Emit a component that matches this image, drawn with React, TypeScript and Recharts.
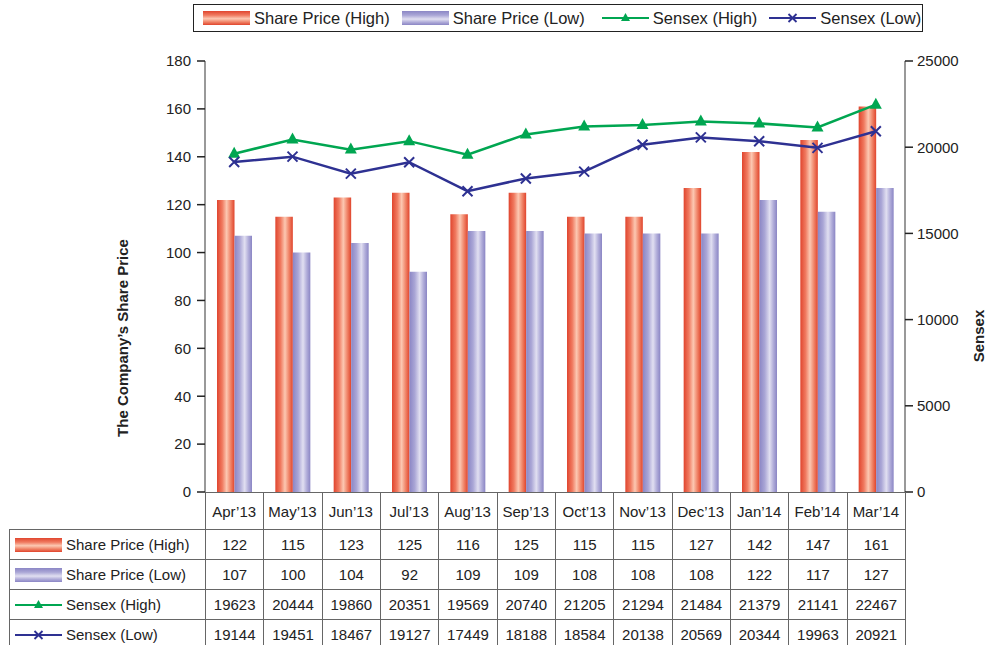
import React from 'react';
import {
    ComposedChart,
    Bar,
    Line,
    XAxis,
    YAxis,
} from 'recharts';

const months = ["Apr'13", "May'13", "Jun'13", "Jul'13", "Aug'13", "Sep'13", "Oct'13", "Nov'13", "Dec'13", "Jan'14", "Feb'14", "Mar'14"].map(m => m.replace("'", '\u2019'));
const priceHigh = [122, 115, 123, 125, 116, 125, 115, 115, 127, 142, 147, 161];
const priceLow = [107, 100, 104, 92, 109, 109, 108, 108, 108, 122, 117, 127];
const sensexHigh = [19623, 20444, 19860, 20351, 19569, 20740, 21205, 21294, 21484, 21379, 21141, 22467];
const sensexLow = [19144, 19451, 18467, 19127, 17449, 18188, 18584, 20138, 20569, 20344, 19963, 20921];

const leftTicks = [0, 20, 40, 60, 80, 100, 120, 140, 160, 180];
const rightTicks = [0, 5000, 10000, 15000, 20000, 25000];

const FONT = '"Liberation Sans", Arial, Helvetica, sans-serif';
const GREEN = '#00a651';
const BLUE = '#2e3192';
const RED_GRAD = 'linear-gradient(to right, #e0452e 0%, #f07a60 30%, #fcc8b2 55%, #f08468 78%, #e0442c 100%)';
const LAV_GRAD = 'linear-gradient(to right, #8b86c5 0%, #aaa6d6 30%, #e1dff1 58%, #b0acd9 80%, #8a85c4 100%)';

const chartData = months.map((m, i) => ({
    month: m,
    high: priceHigh[i],
    low: priceLow[i],
    sHigh: sensexHigh[i],
    sLow: sensexLow[i],
}));

const TriangleDot = (props: any) => {
    const { cx, cy } = props;
    if (cx == null || cy == null) return null;
    return <polygon points={`${cx},${cy - 7} ${cx - 6},${cy + 4} ${cx + 6},${cy + 4}`} fill={GREEN} />;
};

const CrossDot = (props: any) => {
    const { cx, cy } = props;
    if (cx == null || cy == null) return null;
    return (
        <path d={`M${cx - 5},${cy - 5}L${cx + 5},${cy + 5}M${cx - 5},${cy + 5}L${cx + 5},${cy - 5}`} stroke={BLUE} strokeWidth={2} />
    );
};

const Swatch = ({ kind }: { kind: string }) => {
    if (kind === 'high') return <span style={{ display: 'inline-block', width: 47, height: 14, background: RED_GRAD.replace('to right', 'to bottom') }} />;
    if (kind === 'low') return <span style={{ display: 'inline-block', width: 47, height: 14, background: LAV_GRAD.replace('to right', 'to bottom') }} />;
    return (
        <svg width={47} height={14} style={{ display: 'inline-block' }}>
            <line x1={0} y1={7} x2={47} y2={7} stroke={kind === 'sHigh' ? GREEN : BLUE} strokeWidth={2} />
            {kind === 'sHigh'
                ? <polygon points="23.5,2 19,10 28,10" fill={GREEN} />
                : <path d="M19.5,3L27.5,11M19.5,11L27.5,3" stroke={BLUE} strokeWidth={1.8} />}
        </svg>
    );
};

const seriesNames = [
    { key: 'high', name: 'Share Price (High)', values: priceHigh },
    { key: 'low', name: 'Share Price (Low)', values: priceLow },
    { key: 'sHigh', name: 'Sensex (High)', values: sensexHigh },
    { key: 'sLow', name: 'Sensex (Low)', values: sensexLow },
];

const MonthTick = (props: any) => {
    const { x, payload } = props;
    return (
        <text x={x} y={517} textAnchor="middle" fontSize={15} fill="#222" fontFamily={FONT}>{payload.value}</text>
    );
};

const cellBorder = '1.5px solid #666';

export default function App() {
    return (
        <div style={{ position: 'absolute', left: 0, top: 0, width: 987, height: 645, background: '#fff', overflow: 'hidden', fontFamily: FONT }}>
            {/* legend */}
            <div style={{ position: 'absolute', left: 193, top: 4, width: 730, height: 28, border: '1.5px solid #222', display: 'flex', alignItems: 'center', boxSizing: 'border-box', paddingLeft: 9 }}>
                {seriesNames.map((s, i) => (
                    <div key={s.key} style={{ display: 'flex', alignItems: 'center', marginRight: [12, 17, 12, 0][i] }}>
                        <Swatch kind={s.key} />
                        <span style={{ fontSize: 16.5, color: '#222', marginLeft: 4, whiteSpace: 'nowrap' }}>{s.name}</span>
                    </div>
                ))}
            </div>

            <ComposedChart
                width={987}
                height={530}
                data={chartData}
                margin={{ top: 61, right: 2, left: 140, bottom: 1 }}
                barGap={0}
                style={{ position: 'absolute', left: 0, top: 0 }}
            >
                <defs>
                    <linearGradient id="gHigh" x1="0" y1="0" x2="1" y2="0">
                        <stop offset="0%" stopColor="#e0452e" />
                        <stop offset="30%" stopColor="#f07a60" />
                        <stop offset="55%" stopColor="#fcc8b2" />
                        <stop offset="78%" stopColor="#f08468" />
                        <stop offset="100%" stopColor="#e0442c" />
                    </linearGradient>
                    <linearGradient id="gLow" x1="0" y1="0" x2="1" y2="0">
                        <stop offset="0%" stopColor="#8b86c5" />
                        <stop offset="30%" stopColor="#aaa6d6" />
                        <stop offset="58%" stopColor="#e1dff1" />
                        <stop offset="80%" stopColor="#b0acd9" />
                        <stop offset="100%" stopColor="#8a85c4" />
                    </linearGradient>
                </defs>
                <XAxis dataKey="month" height={37} axisLine={false} tickLine={false} tick={<MonthTick />} interval={0} />
                <XAxis xAxisId="top" dataKey="month" orientation="top" height={0} tick={false} tickLine={false} axisLine={{ stroke: '#111', strokeWidth: 1.5 }} />
                <YAxis
                    yAxisId="left"
                    width={65}
                    domain={[0, 180]}
                    ticks={leftTicks}
                    interval={0}
                    tickSize={8}
                    tickMargin={6}
                    axisLine={{ stroke: '#777', strokeWidth: 1.5 }}
                    tickLine={{ stroke: '#222', strokeWidth: 1.5 }}
                    tick={{ fontSize: 15, fill: '#222', fontFamily: FONT }}
                    label={{
                        content: () => (
                            <text x={122} y={338} transform="rotate(-90, 122, 338)" textAnchor="middle" dominantBaseline="central" fontSize={15} fontWeight="bold" fill="#222" fontFamily={FONT}>
                                The Company’s Share Price
                            </text>
                        ),
                    }}
                />
                <YAxis
                    yAxisId="right"
                    orientation="right"
                    width={80}
                    domain={[0, 25000]}
                    ticks={rightTicks}
                    interval={0}
                    tickSize={8}
                    tickMargin={4}
                    axisLine={{ stroke: '#777', strokeWidth: 1.5 }}
                    tickLine={{ stroke: '#222', strokeWidth: 1.5 }}
                    tick={{ fontSize: 15, fill: '#222', fontFamily: FONT }}
                    label={{
                        content: () => (
                            <text x={978} y={336} transform="rotate(-90, 978, 336)" textAnchor="middle" dominantBaseline="central" fontSize={15} fontWeight="bold" fill="#222" fontFamily={FONT}>
                                Sensex
                            </text>
                        ),
                    }}
                />
                <Bar yAxisId="left" dataKey="high" name="Share Price (High)" fill="url(#gHigh)" barSize={17.5} isAnimationActive={false} />
                <Bar yAxisId="left" dataKey="low" name="Share Price (Low)" fill="url(#gLow)" barSize={17.5} isAnimationActive={false} />
                <Line yAxisId="right" dataKey="sHigh" name="Sensex (High)" stroke={GREEN} strokeWidth={2.5} dot={<TriangleDot />} activeDot={false} isAnimationActive={false} />
                <Line yAxisId="right" dataKey="sLow" name="Sensex (Low)" stroke={BLUE} strokeWidth={2.5} dot={<CrossDot />} activeDot={false} isAnimationActive={false} />
            </ComposedChart>

            {/* data table */}
            <table style={{ position: 'absolute', left: 9, top: 492, borderCollapse: 'collapse', tableLayout: 'fixed', width: 896, fontSize: 15, color: '#222' }}>
                <colgroup>
                    <col style={{ width: 196 }} />
                    {months.map(m => <col key={m} style={{ width: 700 / 12 }} />)}
                </colgroup>
                <tbody>
                    <tr style={{ height: 37 }}>
                        <td style={{ borderRight: cellBorder }} />
                        {months.map(m => (
                            <td key={m} style={{ borderTop: cellBorder, borderRight: cellBorder, borderBottom: cellBorder }} />
                        ))}
                    </tr>
                    {seriesNames.map(s => (
                        <tr key={s.key} style={{ height: 30 }}>
                            <td style={{ border: cellBorder, padding: '0 0 0 5px', whiteSpace: 'nowrap' }}>
                                <div style={{ display: 'flex', alignItems: 'center' }}>
                                    <Swatch kind={s.key} />
                                    <span style={{ marginLeft: 4 }}>{s.name}</span>
                                </div>
                            </td>
                            {s.values.map((v, i) => (
                                <td key={i} style={{ border: cellBorder, textAlign: 'center', padding: 0 }}>{v}</td>
                            ))}
                        </tr>
                    ))}
                </tbody>
            </table>
        </div>
    );
}
